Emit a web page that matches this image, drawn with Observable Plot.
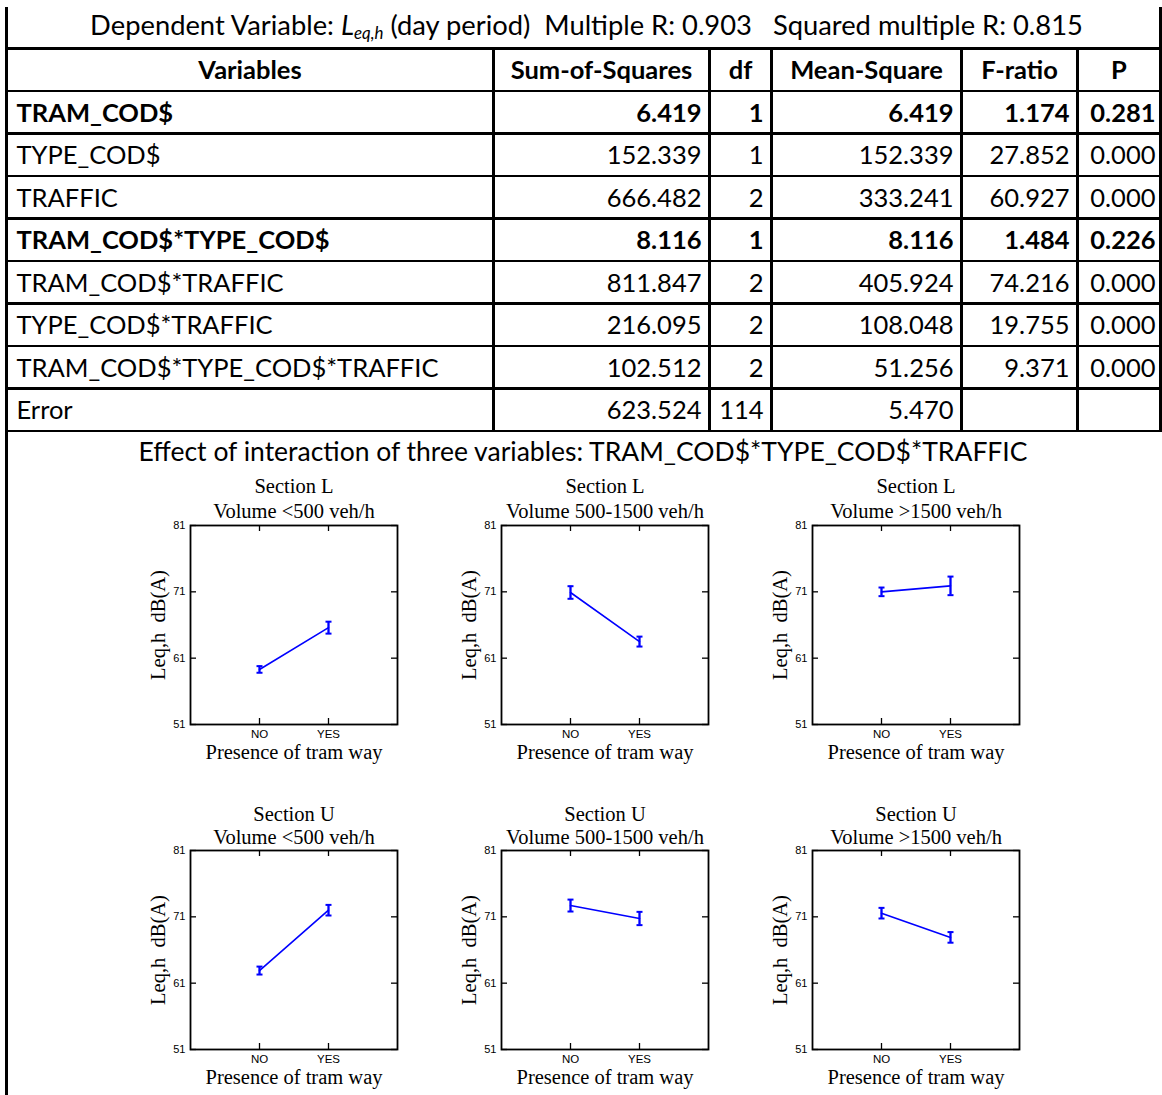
<!DOCTYPE html>
<html><head><meta charset="utf-8">
<script src="https://cdn.jsdelivr.net/npm/d3@7"></script>
<script src="https://cdn.jsdelivr.net/npm/@observablehq/plot@0.6"></script>
<style>
body{margin:0;background:#fff;}
#page{position:relative;width:1162px;height:1095px;overflow:hidden;font-family:Lato,"Open Sans",sans-serif;color:#000;background:#fff;}
.ln{position:absolute;background:#000;}
.cell{position:absolute;display:flex;align-items:center;white-space:pre;box-sizing:border-box;line-height:1;}
.chart{position:absolute;}
.chart svg{overflow:visible;}
</style></head><body><div id="page"></div>
<script>
// ---------------- Table data ----------------
const depVarLabel = "Dependent Variable: ";
const depVarSymbol = "L";
const depVarSub = "eq,h";
const depVarRest = " (day period)  Multiple R: 0.903   Squared multiple R: 0.815";
const headers = ["Variables","Sum-of-Squares","df","Mean-Square","F-ratio","P"];
const variables = ["TRAM_COD$","TYPE_COD$","TRAFFIC","TRAM_COD$*TYPE_COD$","TRAM_COD$*TRAFFIC","TYPE_COD$*TRAFFIC","TRAM_COD$*TYPE_COD$*TRAFFIC","Error"];
const sumSquares = ["6.419","152.339","666.482","8.116","811.847","216.095","102.512","623.524"];
const dfs = ["1","1","2","1","2","2","2","114"];
const meanSquares = ["6.419","152.339","333.241","8.116","405.924","108.048","51.256","5.470"];
const fRatios = ["1.174","27.852","60.927","1.484","74.216","19.755","9.371",""];
const pValues = ["0.281","0.000","0.000","0.226","0.000","0.000","0.000",""];
const boldRows = [true,false,false,true,false,false,false,false];
const effectTitle = "Effect of interaction of three variables: TRAM_COD$*TYPE_COD$*TRAFFIC";

// ---------------- Chart data ----------------
const sections = ["Section L","Section U"];
const volumes = ["Volume <500 veh/h","Volume 500-1500 veh/h","Volume >1500 veh/h"];
const tram = ["NO","YES"];
const meansL = [[59.3,65.6],[70.9,63.5],[71.0,71.9]];
const errsL  = [[0.5,0.9],[0.95,0.75],[0.65,1.4]];
const meansU = [[62.9,72.0],[72.7,70.75],[71.55,67.9]];
const errsU  = [[0.6,0.8],[0.9,1.0],[0.8,0.8]];
const yTicks = [51,61,71,81];
const xLabel = "Presence of tram way";
const yLabel = "Leq,h\u00a0 dB(A)";

// ---------------- Layout ----------------
const page = document.getElementById("page");
const FONT = 'Lato, "Open Sans", sans-serif';
const cv = document.createElement("canvas").getContext("2d");
cv.font = "100px " + FONT;
const fs = 100 * 422 / cv.measureText("TRAM_COD$*TYPE_COD$*TRAFFIC").width;
page.style.fontSize = fs + "px";

const xs = [6.5, 493.5, 709.5, 771.5, 961.5, 1077.5, 1160.5];
const yTop = 6.5;
const ys = [48.3, 91, 133.5, 176, 218.5, 261, 303.5, 346, 388.5, 431];
const LW = 2.5;

function line(x, y, w, h){
  const d = document.createElement("div");
  d.className = "ln";
  Object.assign(d.style,{left:x+"px",top:y+"px",width:w+"px",height:h+"px"});
  page.appendChild(d);
}
function cell(x0,x1,y0,y1,html,align,bold,pad){
  const d = document.createElement("div");
  d.className = "cell";
  Object.assign(d.style,{left:x0+"px",top:y0+"px",width:(x1-x0)+"px",height:(y1-y0)+"px",
    justifyContent: align==="left"?"flex-start":align==="right"?"flex-end":"center",
    fontWeight: bold?"700":"400", paddingLeft:(align==="left"?pad:0)+"px", paddingRight:(align==="right"?pad:0)+"px"});
  d.innerHTML = html;
  page.appendChild(d);
  return d;
}
function fitCell(d, target){
  const span = document.createElement("span");
  span.innerHTML = d.innerHTML;
  d.innerHTML = "";
  d.appendChild(span);
  const w = span.getBoundingClientRect().width;
  d.style.fontSize = (fs * target / w) + "px";
}
// lines
ys.forEach(y => line(xs[0]-LW/2, y-LW/2, xs[6]-xs[0]+LW, LW));
line(xs[0]-LW/2, yTop, LW, 1095-yTop);
line(xs[6]-LW/2, yTop, LW, ys[9]-yTop+LW/2);
for (let i=1;i<6;i++) line(xs[i]-LW/2, ys[0], LW, ys[9]-ys[0]);

const esc = s => s.replace(/&/g,"&amp;").replace(/</g,"&lt;").replace(/>/g,"&gt;");
// title row
const tcell = cell(xs[0], xs[6], yTop-3, ys[0]-3,
  esc(depVarLabel) + '<i>' + depVarSymbol + '</i><sub style="font-size:0.62em;font-style:italic;position:relative;top:0.28em;vertical-align:baseline">' + depVarSub + '</sub>' + esc(depVarRest),
  "center", false, 0);
tcell.style.paddingLeft = "6px";
fitCell(tcell, 993);
// header row
headers.forEach((h,i) => cell(xs[i], xs[i+1], ys[0], ys[1], esc(h), "center", true, 0));
// data rows
variables.forEach((v,r) => {
  const y0 = ys[r+1], y1 = ys[r+2], b = boldRows[r];
  cell(xs[0], xs[1], y0, y1, esc(v), "left", b, 10);
  [sumSquares[r], dfs[r], meanSquares[r], fRatios[r], pValues[r]].forEach((t,c) =>
    cell(xs[c+1], xs[c+2], y0, y1, esc(t), "right", b, c===4?5:8));
});
// effect title
const ecell = cell(0, 1162, 432, 470, esc(effectTitle), "center", false, 0);
ecell.style.paddingLeft = "4px";
fitCell(ecell, 889);

// ---------------- Charts ----------------
const FW = 207, FH = 199, ML = 60, MR = 20, MT = 50, MB = 40;
const frameLefts = [190, 501, 812];
const frameTops = [525, 850];
const SERIF = '"Liberation Serif", "Times New Roman", serif';
const SANS = '"Liberation Sans", Arial, sans-serif';
const BLUE = "#0000ff";
const cap = {draw(ctx, size){ const r = Math.sqrt(size/Math.PI); ctx.moveTo(-r,0); ctx.lineTo(r,0); }};
const txt = {textAnchor:"middle", lineAnchor:"middle", fontFamily:SERIF, fontSize:20.5, fill:"#000"};

function chart(sec, vol, means, errs, titleDy){
  const data = tram.map((t,i)=>({tram:t, mean:means[i], lo:means[i]-errs[i], hi:means[i]+errs[i]}));
  return Plot.plot({
    width: ML+FW+MR, height: MT+FH+MB,
    marginLeft: ML, marginRight: MR, marginTop: MT, marginBottom: MB,
    style: {background:"transparent", overflow:"visible", color:"#000"},
    x: {type:"point", domain: tram, padding: 1, label: null},
    y: {domain:[51,81], label: null},
    marks: [
      Plot.ruleY(yTicks, {y: d=>d, insetRight: FW-6, stroke:"#000", strokeWidth:1.3}),
      Plot.ruleY(yTicks, {y: d=>d, insetLeft: FW-6, stroke:"#000", strokeWidth:1.3}),
      Plot.ruleX(tram, {x: d=>d, insetBottom: FH-6, stroke:"#000", strokeWidth:1.3}),
      Plot.ruleX(tram, {x: d=>d, insetTop: FH-6, stroke:"#000", strokeWidth:1.3}),
      Plot.frame({stroke:"#000", strokeWidth:1.8}),
      Plot.axisY({ticks: yTicks, tickSize:0, tickPadding:5, fontSize:11, fontFamily:SANS, label:null}),
      Plot.axisX({tickSize:0, tickPadding:5, fontSize:11.5, fontFamily:SANS, label:null}),
      Plot.line(data, {x:"tram", y:"mean", stroke:BLUE, strokeWidth:1.6}),
      Plot.ruleX(data, {x:"tram", y1:"lo", y2:"hi", stroke:BLUE, strokeWidth:2.3}),
      Plot.dot(data, {x:"tram", y:"lo", symbol:cap, r:3, fill:"none", stroke:BLUE, strokeWidth:2}),
      Plot.dot(data, {x:"tram", y:"hi", symbol:cap, r:3, fill:"none", stroke:BLUE, strokeWidth:2}),
      Plot.text([sec], {...txt, text:d=>d, frameAnchor:"top", dy:titleDy[0]}),
      Plot.text([vol], {...txt, text:d=>d, frameAnchor:"top", dy:titleDy[1]}),
      Plot.text([xLabel], {...txt, text:d=>d, frameAnchor:"bottom", dy:27.5}),
      Plot.text([yLabel], {...txt, text:d=>d, frameAnchor:"left", dx:-31.6, rotate:-90})
    ]
  });
}

const titleOffsets = [[-39.5,-14.5],[-36.5,-13.5]];
sections.forEach((sec, r) => {
  const means = r===0 ? meansL : meansU;
  const errs = r===0 ? errsL : errsU;
  volumes.forEach((vol, c) => {
    const wrap = document.createElement("div");
    wrap.className = "chart";
    wrap.style.left = (frameLefts[c]-ML) + "px";
    wrap.style.top = (frameTops[r]-MT) + "px";
    wrap.appendChild(chart(sec, vol, means[c], errs[c], titleOffsets[r]));
    page.appendChild(wrap);
  });
});
</script>
</body></html>
